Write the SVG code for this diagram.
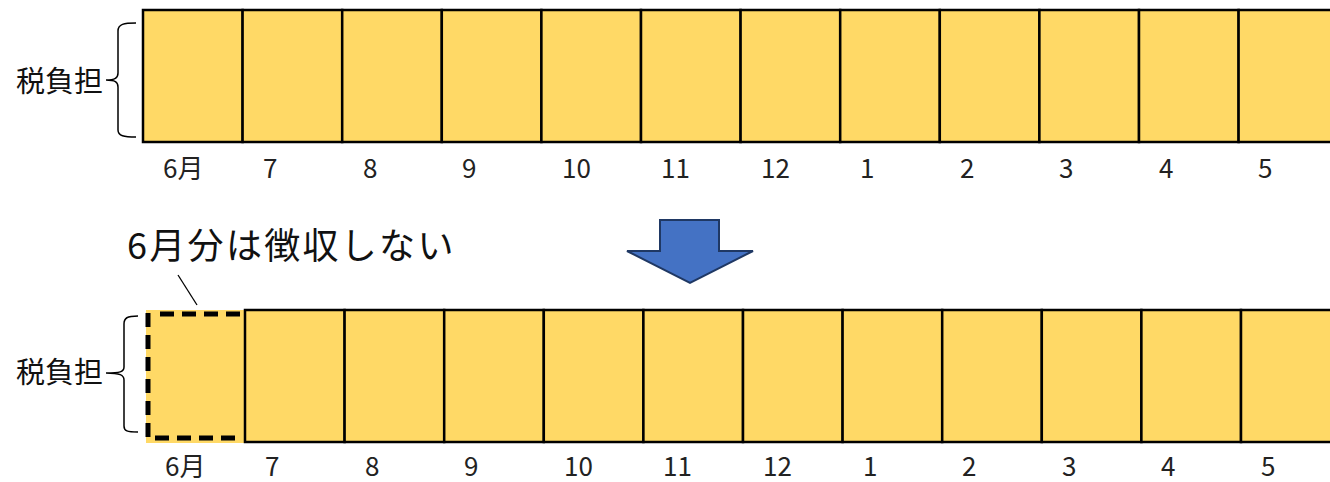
<svg xmlns="http://www.w3.org/2000/svg" width="1330" height="482" viewBox="0 0 1330 482">
<style>
.cell{fill:#FFD966;stroke:#000;stroke-width:2.5}
.lbl{font-family:"Noto Sans CJK JP","Noto Sans",sans-serif;font-size:26px;fill:#222}
.side{font-family:"Noto Sans CJK JP",sans-serif;font-size:29px;fill:#111}
.brace{fill:none;stroke:#000;stroke-width:1.5}
.dash{stroke:#000;stroke-width:5;stroke-dasharray:14 8;fill:none}
</style>
<rect width="1330" height="482" fill="#fff"/>
<g id="top-row">
<rect class="cell" x="143" y="10" width="99.6" height="132"/>
<rect class="cell" x="242.6" y="10" width="99.6" height="132"/>
<rect class="cell" x="342.2" y="10" width="99.6" height="132"/>
<rect class="cell" x="441.8" y="10" width="99.6" height="132"/>
<rect class="cell" x="541.4" y="10" width="99.6" height="132"/>
<rect class="cell" x="641" y="10" width="99.6" height="132"/>
<rect class="cell" x="740.6" y="10" width="99.6" height="132"/>
<rect class="cell" x="840.2" y="10" width="99.6" height="132"/>
<rect class="cell" x="939.8" y="10" width="99.6" height="132"/>
<rect class="cell" x="1039.4" y="10" width="99.6" height="132"/>
<rect class="cell" x="1139" y="10" width="99.6" height="132"/>
<rect class="cell" x="1238.6" y="10" width="99.6" height="132"/>
</g>
<g id="top-labels" class="lbl">
<text x="163" y="178">6月</text>
<text x="263" y="178">7</text>
<text x="363" y="178">8</text>
<text x="462" y="178">9</text>
<text x="562" y="178">10</text>
<text x="661" y="178">11</text>
<text x="761" y="178">12</text>
<text x="860" y="178">1</text>
<text x="960" y="178">2</text>
<text x="1059" y="178">3</text>
<text x="1159" y="178">4</text>
<text x="1258" y="178">5</text>
</g>
<g id="top-brace">
<path class="brace" d="M136,23 C124,23 118,24 118,31 V73 C118,78 115,80 106,80 C115,80 118,82 118,87 V130 C118,136 124,137 136,137"/>
<text class="side" x="16" y="92">税負担</text>
</g>
<g id="arrow">
<path d="M660,220 H719 V251 H753 L690,283 L627,251 H660 Z" fill="#4472C4" stroke="#1F3864" stroke-width="2"/>
</g>
<g id="note">
<text x="127" y="259" font-family="Noto Sans CJK JP,sans-serif" font-size="36" letter-spacing="2.3" fill="#111">6月分は徴収しない</text>
</g>
<g id="connectors">
<line x1="178" y1="275" x2="197" y2="305" stroke="#000" stroke-width="1.3"/>
</g>
<g id="bottom-row">
<rect x="146" y="310" width="99" height="133" fill="#FFD966"/>
<line class="dash" x1="148" y1="313" x2="148" y2="441"/>
<line class="dash" x1="160" y1="314" x2="242" y2="314"/>
<line class="dash" x1="155" y1="438" x2="242" y2="438"/>
<rect class="cell" x="245" y="310" width="99.6" height="132"/>
<rect class="cell" x="344.6" y="310" width="99.6" height="132"/>
<rect class="cell" x="444.2" y="310" width="99.6" height="132"/>
<rect class="cell" x="543.8" y="310" width="99.6" height="132"/>
<rect class="cell" x="643.4" y="310" width="99.6" height="132"/>
<rect class="cell" x="743" y="310" width="99.6" height="132"/>
<rect class="cell" x="842.6" y="310" width="99.6" height="132"/>
<rect class="cell" x="942.2" y="310" width="99.6" height="132"/>
<rect class="cell" x="1041.8" y="310" width="99.6" height="132"/>
<rect class="cell" x="1141.4" y="310" width="99.6" height="132"/>
<rect class="cell" x="1241" y="310" width="99.6" height="132"/>
</g>
<g id="bottom-labels" class="lbl">
<text x="165" y="476">6月</text>
<text x="265" y="476">7</text>
<text x="365" y="476">8</text>
<text x="464" y="476">9</text>
<text x="564" y="476">10</text>
<text x="663" y="476">11</text>
<text x="763" y="476">12</text>
<text x="863" y="476">1</text>
<text x="962" y="476">2</text>
<text x="1062" y="476">3</text>
<text x="1161" y="476">4</text>
<text x="1261" y="476">5</text>
</g>
<g id="bottom-brace">
<path class="brace" d="M138,316 C127,316 124,318 124,324 V367 C124,372 120,373 106,373 C120,373 124,375 124,380 V426 C124,431 127,432 138,432"/>
<text class="side" x="16" y="383">税負担</text>
</g>
</svg>
